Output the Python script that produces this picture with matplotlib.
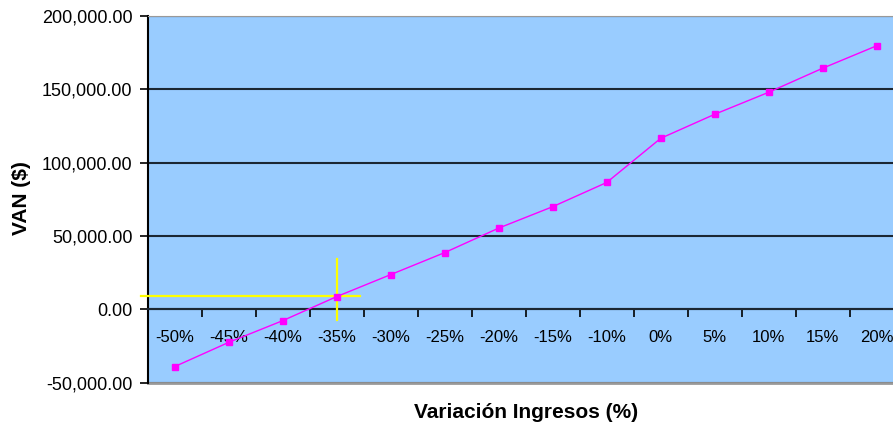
import matplotlib.pyplot as plt
import numpy as np

# categories on the x axis (there is no -5% in the source chart)
labels = ['-50%', '-45%', '-40%', '-35%', '-30%', '-25%', '-20%',
          '-15%', '-10%', '0%', '5%', '10%', '15%', '20%']
van = [-39000, -22500, -7700, 8700, 23700, 38700, 55400,
       70000, 86500, 116600, 133000, 148000, 164400, 179700]

# yellow crosshair marking the break-even point
cross_x = 3
cross_y = 9300
cross_h = (-0.62, 3.44)
cross_v = (-7200, 34600)

plt.rcParams['font.family'] = ['Liberation Sans', 'DejaVu Sans']

fig = plt.figure(figsize=(8.93, 4.32), dpi=100)
fig.patch.set_facecolor('white')
# plot area runs past the right edge of the picture, like the source
ax = fig.add_axes([0.1654, 0.1141, 0.8466, 0.8489])
ax.set_facecolor('#99CCFF')

x = np.arange(len(labels))
ax.plot(x, van, color='#FF00FF', lw=1.0, marker='s', markersize=5,
        markeredgecolor='#FF00FF', zorder=4)

ax.plot(cross_h, [cross_y, cross_y], color='#FFFF00', lw=1.6, zorder=3,
        clip_on=False)
ax.plot([cross_x, cross_x], cross_v, color='#FFFF00', lw=1.6, zorder=3)

ax.set_xlim(-0.5, len(labels) - 0.5)
ax.set_ylim(-50000, 200000)

# y axis
ax.set_yticks(np.arange(-50000, 200001, 50000))
ax.yaxis.set_major_formatter(plt.FuncFormatter(lambda v, p: f'{v:,.2f}'))
ax.tick_params(axis='y', direction='out', length=6, width=1.2,
               labelsize=13, pad=5, colors='black')
ax.yaxis.grid(True, color='#1b2733', lw=1.5)
ax.set_axisbelow(True)

# x axis crosses at zero
ax.spines['bottom'].set_position(('data', 0))
ax.spines['bottom'].set_color('#1b2733')
ax.spines['bottom'].set_linewidth(1.5)
ax.set_xticks(np.arange(-0.5, len(labels), 1.0))
ax.set_xticklabels([])
ax.tick_params(axis='x', which='major', direction='out', length=6, width=1.2)
ax.set_xticks(x, minor=True)
ax.set_xticklabels(labels, minor=True)
ax.tick_params(axis='x', which='minor', length=0, labelsize=12, pad=15)

ax.spines['left'].set_color('black')
ax.spines['left'].set_linewidth(1.5)
ax.spines['top'].set_color('#999999')
ax.spines['right'].set_visible(False)
ax.axhline(-50000, color='#999999', lw=2, clip_on=False)

fig.text(0.589, 0.044, 'Variación Ingresos (%)', ha='center', va='center',
         fontsize=15, fontweight='bold')
fig.text(0.0246, 0.542, 'VAN ($)', ha='center', va='center', rotation=90,
         fontsize=15, fontweight='bold')

fig.savefig('out.png', dpi=100)
